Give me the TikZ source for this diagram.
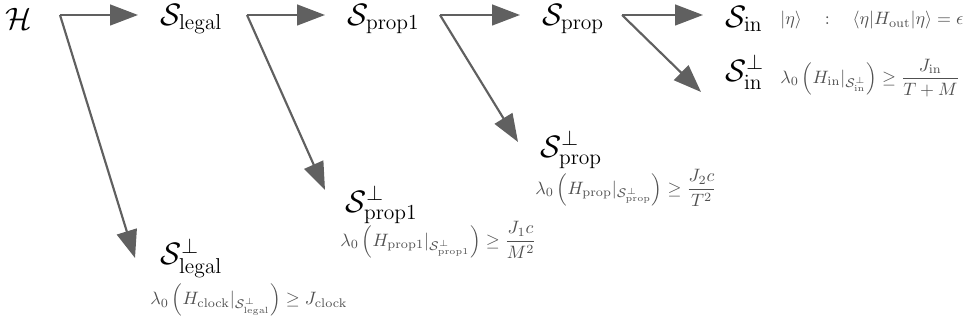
\documentclass[tikz,border=0pt]{standalone}
\usepackage{amsmath,amssymb}
\usetikzlibrary{arrows.meta,calc}

\definecolor{grisfleche}{HTML}{606060}
\definecolor{gristexte}{HTML}{505050}

\tikzset{
  fleche/.style={draw=grisfleche, line width=1.2pt, -{Triangle[length=15.5pt,width=11.5pt]}},
  etat/.style={font=\LARGE, inner sep=0pt, anchor=west},
  cond/.style={text=gristexte, inner sep=0pt, anchor=west},
}

\begin{document}
\begin{tikzpicture}[x=0.0196cm,y=-0.0196cm]
\useasboundingbox (0,0) rectangle (969,327);

% Espaces
\node[etat] (H) at (5,19) {$\mathcal{H}$};
\node[etat] (Sl) at (160,19) {$\mathcal{S}_{\mathrm{legal}}$};
\node[etat] (Sp1) at (347,19) {$\mathcal{S}_{\mathrm{prop1}}$};
\node[etat] (Sp) at (542,19) {$\mathcal{S}_{\mathrm{prop}}$};
\node[etat] (Si) at (725,19) {$\mathcal{S}_{\mathrm{in}}$};

% Complements
\node[etat] (Slc) at (160,258) {$\mathcal{S}^{\perp}_{\mathrm{legal}}$};
\node[etat] (Sp1c) at (345,205) {$\mathcal{S}^{\perp}_{\mathrm{prop1}}$};
\node[etat] (Spc) at (540,150) {$\mathcal{S}^{\perp}_{\mathrm{prop}}$};
\node[etat] (Sic) at (725,72) {$\mathcal{S}^{\perp}_{\mathrm{in}}$};

% Conditions
\node[cond] (ci) at (780,20) {$|\eta\rangle \quad : \quad \langle\eta|H_{\mathrm{out}}|\eta\rangle = \epsilon$};
\node[cond] (cic) at (780,78) {$\displaystyle \lambda_0\left(H_{\mathrm{in}}|_{\mathcal{S}^{\perp}_{\mathrm{in}}}\right) \geq \frac{J_{\mathrm{in}}}{T+M}$};
\node[cond] (cpc) at (535,188) {$\displaystyle \lambda_0\left(H_{\mathrm{prop}}|_{\mathcal{S}^{\perp}_{\mathrm{prop}}}\right) \geq \frac{J_2 c}{T^2}$};
\node[cond] (cp1c) at (340,240) {$\displaystyle \lambda_0\left(H_{\mathrm{prop1}}|_{\mathcal{S}^{\perp}_{\mathrm{prop1}}}\right) \geq \frac{J_1 c}{M^2}$};
\node[cond] (clc) at (150,300) {$\displaystyle \lambda_0\left(H_{\mathrm{clock}}|_{\mathcal{S}^{\perp}_{\mathrm{legal}}}\right) \geq J_{\mathrm{clock}}$};

% Embranchements
\coordinate (fH) at (60,15);
\coordinate (fSl) at (247,15);
\coordinate (fSp1) at (440,15);
\coordinate (fSp) at (622,15);

% Fleches
\draw[fleche] (fH) -- ($(Sl.west |- fH)+(-22,0)$);
\draw[fleche] (fH) -- ($(Slc.west)+(-25,0)$);

\draw[fleche] (fSl) -- ($(Sp1.west |- fSl)+(-22,0)$);
\draw[fleche] (fSl) -- ($(Sp1c.west)+(-20,-15)$);

\draw[fleche] (fSp1) -- ($(Sp.west |- fSp1)+(-22,0)$);
\draw[fleche] (fSp1) -- ($(Spc.west)+(-22,-8)$);

\draw[fleche] (fSp) -- ($(Si.west |- fSp)+(-22,0)$);
\draw[fleche] (fSp) -- ($(Sic.west)+(-24,20)$);

\end{tikzpicture}
\end{document}
